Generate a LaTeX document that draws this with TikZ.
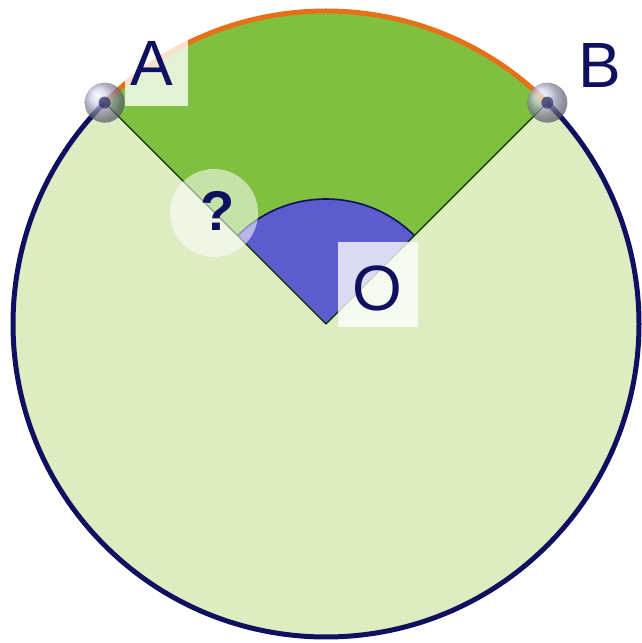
\documentclass[tikz,border=0pt]{standalone}
\usepackage{fontspec}
\setmainfont{Liberation Sans}
\usetikzlibrary{calc}
\definecolor{lightg}{RGB}{221,236,193}
\definecolor{midg}{RGB}{128,192,64}
\definecolor{sectblue}{RGB}{92,92,204}
\definecolor{navy}{RGB}{16,16,96}
\definecolor{orng}{RGB}{230,112,24}
\definecolor{ballc}{RGB}{196,196,232}
\tikzset{
  lbl/.style={text=navy,font=\fontsize{64}{64}\selectfont,inner sep=0pt},
  lblbox/.style={fill=white,fill opacity=0.78,draw=none},
  pt/.style={circle,minimum size=40pt,inner sep=0pt,shading=ball,ball color=ballc,opacity=0.7},
  ptdot/.style={circle,minimum size=12pt,inner sep=0pt,fill=navy!70!gray,opacity=0.75},
}
\begin{document}
\begin{tikzpicture}[x=1pt,y=1pt]
\useasboundingbox (0,0) rectangle (641,643);
\coordinate (O) at (326,319);
\coordinate (A) at ($(O)+(135:313)$);
\coordinate (B) at ($(O)+(45:313)$);
% base disc
\fill[lightg] (O) circle (313);
% big sector
\fill[midg] (O) -- (B) arc (45:135:313) -- cycle;
% small sector
\fill[sectblue] (O) -- ($(O)+(45:125)$) arc (45:135:125) -- cycle;
\draw[navy,line width=1.6pt] ($(O)+(45:125)$) arc (45:135:125);
% radii
\draw[black!80!green,line width=1.2pt] (O) -- (A);
\draw[black!80!green,line width=1.2pt] (O) -- (B);
% circle outline
\draw[navy,line width=5pt] (B) arc (45:-225:313);
\draw[orng,line width=5pt] (B) arc (45:135:313);
% question mark
\node[circle,minimum size=88pt,fill=white,fill opacity=0.55,draw=none] (q) at (214,430) {};
\node[text=navy,font=\bfseries\fontsize{56}{56}\selectfont,inner sep=0pt] (qm) at (218,432) {?};
% labels with boxes
\fill[lblbox] (125,537) rectangle (188,608);
\node[lbl] (la) at (152,580) {A};
\node[lbl] (lb) at (600,578) {B};
\fill[lblbox] (338,316) rectangle (418,401);
\node[lbl] (lo) at (377,355) {O};
% points
\node[pt] (pa) at (A) {};
\node[ptdot] (da) at (A) {};
\node[pt] (pb) at (B) {};
\node[ptdot] (db) at (B) {};
\end{tikzpicture}
\end{document}
